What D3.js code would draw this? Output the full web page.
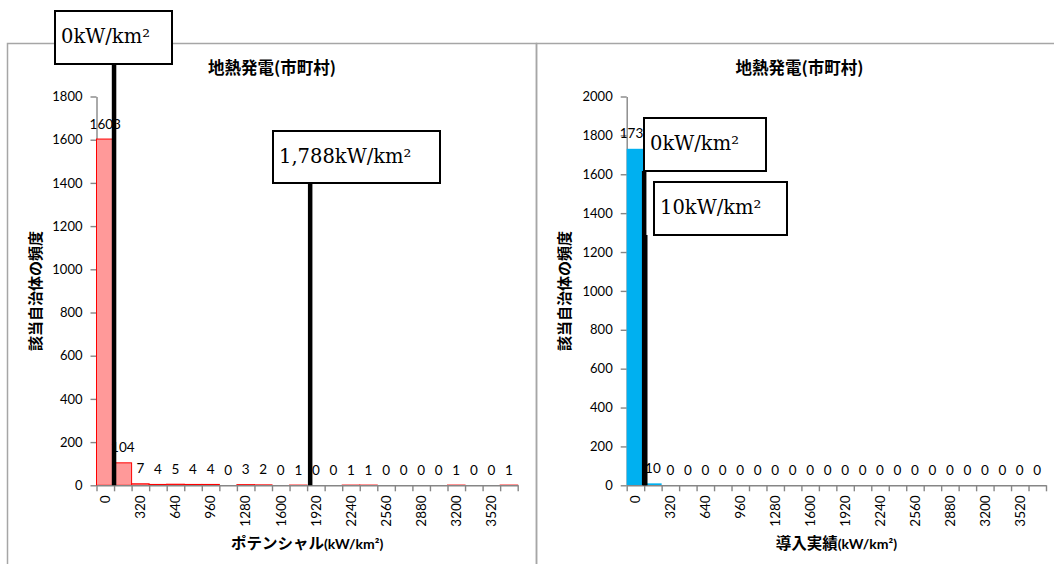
<!DOCTYPE html>
<html lang="ja">
<head>
<meta charset="utf-8">
<title>地熱発電(市町村)</title>
<script src="https://cdn.jsdelivr.net/npm/d3@7"></script>
<style>
  html, body { margin: 0; padding: 0; background: #fff; }
  svg { display: block; }
</style>
</head>
<body>
<svg id="chart" width="1054" height="564"></svg>
<script>
// Histogram bins (kW/km²); each bin is labelled by its upper bound.
const bins = [0, 160, 320, 480, 640, 800, 960, 1120, 1280, 1440, 1600, 1760,
              1920, 2080, 2240, 2400, 2560, 2720, 2880, 3040, 3200, 3360, 3520, 3680];
const xTickLabels = [0, 320, 640, 960, 1280, 1600, 1920, 2240, 2560, 2880, 3200, 3520];

// Number of municipalities in each bin
const potentialCounts = [1603, 104, 7, 4, 5, 4, 4, 0, 3, 2, 0, 1,
                         0, 0, 1, 1, 0, 0, 0, 0, 1, 0, 0, 1];
const installedCounts = [1731, 10, 0, 0, 0, 0, 0, 0, 0, 0, 0, 0,
                         0, 0, 0, 0, 0, 0, 0, 0, 0, 0, 0, 0];

const potentialTicks = [0, 200, 400, 600, 800, 1000, 1200, 1400, 1600, 1800];
const installedTicks = [0, 200, 400, 600, 800, 1000, 1200, 1400, 1600, 1800, 2000];

// Reference values marked with vertical lines (kW/km²)
const potentialMarkers = [0, 1788];
const installedMarkers = [0, 10];

const chartTitle = "地熱発電(市町村)";
const yTitle = "該当自治体の頻度";

const svg = d3.select("#chart");
const CJK = "'Noto Sans CJK JP', 'Noto Sans', sans-serif";
const LAT = "Lato, 'Liberation Sans', sans-serif";
const SERIF = "'DejaVu Serif', 'Liberation Serif', serif";
const AXIS_GREY = "#868686";
const FRAME_GREY = "#a6a6a6";
const fmtKW = d3.format(",");

function drawChart(cfg) {
  const g = svg.append("g");

  // chart area frame
  g.append("rect")
    .attr("x", cfg.frame[0]).attr("y", cfg.frame[1])
    .attr("width", cfg.frame[2]).attr("height", cfg.frame[3])
    .attr("fill", "none").attr("stroke", FRAME_GREY).attr("stroke-width", 1.5);

  const frameCx = cfg.frame[0] + cfg.frame[2] / 2;

  // title
  g.append("text")
    .attr("x", frameCx).attr("y", 74)
    .attr("text-anchor", "middle")
    .attr("font-family", CJK).attr("font-weight", "bold").attr("font-size", 16.5)
    .text(chartTitle);

  const y = d3.scaleLinear().domain([0, cfg.yMax]).range([cfg.bottom, cfg.top]);
  const band = d3.scaleBand().domain(bins).range([cfg.x0, cfg.x1]).paddingInner(0).paddingOuter(0);
  const idx = d3.scaleLinear().domain([0, bins.length]).range([cfg.x0, cfg.x1]);
  // continuous kW position: bin k spans (bins[k]-160, bins[k]]
  const kw = d3.scaleLinear().domain([bins[0] - 160, bins[bins.length - 1]]).range([cfg.x0, cfg.x1]);

  // y axis
  const yAxis = g.append("g")
    .attr("transform", `translate(${cfg.x0},0)`)
    .call(d3.axisLeft(y).tickValues(cfg.yTicks).tickSize(6).tickSizeOuter(0).tickPadding(8).tickFormat(d3.format("d")));
  yAxis.selectAll("path, line").attr("stroke", AXIS_GREY).attr("stroke-width", 1.4);
  yAxis.selectAll("text").attr("font-family", LAT).attr("font-size", 13).attr("fill", "#000");

  // bars
  g.selectAll("rect.bar")
    .data(cfg.counts.map((c, i) => ({ bin: bins[i], c })).filter(d => d.c > 0))
    .join("rect")
    .attr("class", "bar")
    .attr("x", d => band(d.bin))
    .attr("y", d => y(d.c))
    .attr("width", band.bandwidth())
    .attr("height", d => y(0) - y(d.c))
    .attr("fill", cfg.fill)
    .attr("stroke", cfg.stroke)
    .attr("stroke-width", cfg.stroke === "none" ? 0 : 1);

  // x axis: ticks on bin boundaries
  const xAxis = g.append("g")
    .attr("transform", `translate(0,${cfg.bottom})`)
    .call(d3.axisBottom(idx).tickValues(d3.range(bins.length + 1)).tickSize(6).tickSizeOuter(0).tickFormat(""));
  xAxis.selectAll("path, line").attr("stroke", AXIS_GREY).attr("stroke-width", 1.4);

  // x tick labels, rotated, at bin centres
  const xLab = g.append("g")
    .attr("transform", `translate(0,${cfg.bottom})`)
    .call(d3.axisBottom(band).tickValues(xTickLabels).tickSize(0).tickFormat(d3.format("d")));
  xLab.select(".domain").remove();
  xLab.selectAll("text")
    .attr("font-family", LAT).attr("font-size", 13.5).attr("fill", "#000")
    .attr("text-anchor", "end")
    .attr("transform", "translate(0,10) rotate(-90)")
    .attr("x", 0).attr("y", 0).attr("dy", "0.35em");

  // data labels
  g.selectAll("text.val")
    .data(cfg.counts.map((c, i) => ({ bin: bins[i], c })))
    .join("text")
    .attr("class", "val")
    .attr("x", d => band(d.bin) + band.bandwidth() / 2)
    .attr("y", d => y(d.c) - 10.5)
    .attr("text-anchor", "middle")
    .attr("font-family", LAT).attr("font-size", 13.5).attr("fill", "#000")
    .text(d => d.c);

  // axis titles
  const xt = g.append("text")
    .attr("x", (cfg.x0 + cfg.x1) / 2).attr("y", 549)
    .attr("text-anchor", "middle")
    .attr("font-weight", "bold");
  xt.append("tspan").attr("font-family", CJK).attr("font-size", 15.5).text(cfg.xTitle);
  xt.append("tspan").attr("font-family", LAT).attr("font-size", 14).text("(kW/km²)");

  g.append("text")
    .attr("transform", `translate(${cfg.frame[0] + 28},${(cfg.top + cfg.bottom) / 2}) rotate(-90)`)
    .attr("text-anchor", "middle").attr("dy", "0.35em")
    .attr("font-family", CJK).attr("font-weight", "bold").attr("font-size", 15)
    .text(yTitle);

  // marker lines with their callout boxes
  cfg.markers.forEach((v, i) => {
    const box = cfg.boxes[i];
    g.append("line")
      .attr("x1", kw(v)).attr("x2", kw(v))
      .attr("y1", box[1] + box[3]).attr("y2", y(0))
      .attr("stroke", "#000").attr("stroke-width", 4.5);
  });
  cfg.markers.forEach((v, i) => {
    const box = cfg.boxes[i];
    g.append("rect")
      .attr("x", box[0]).attr("y", box[1]).attr("width", box[2]).attr("height", box[3])
      .attr("fill", "#fff").attr("stroke", "#000").attr("stroke-width", 2);
    g.append("text")
      .attr("x", box[0] + 6).attr("y", box[1] + 32)
      .attr("font-family", SERIF).attr("font-size", 19.5).attr("fill", "#000")
      .text(fmtKW(v) + "kW/km²");
  });
}

drawChart({
  frame: [7.5, 43.5, 529, 560],
  x0: 96.5, x1: 517.7, top: 96.5, bottom: 485.3,
  yMax: 1800, yTicks: potentialTicks,
  counts: potentialCounts,
  fill: "#ff9999", stroke: "#ff0000",
  xTitle: "ポテンシャル",
  markers: potentialMarkers,
  boxes: [[55, 11, 117, 53], [273, 131, 167, 52]]
});

drawChart({
  frame: [536.5, 43.5, 526, 560],
  x0: 626.7, x1: 1046, top: 96.5, bottom: 485.3,
  yMax: 2000, yTicks: installedTicks,
  counts: installedCounts,
  fill: "#00b0f0", stroke: "none",
  xTitle: "導入実績",
  markers: installedMarkers,
  boxes: [[644, 118, 122, 53], [654, 182, 133, 53]]
});
</script>
</body>
</html>
